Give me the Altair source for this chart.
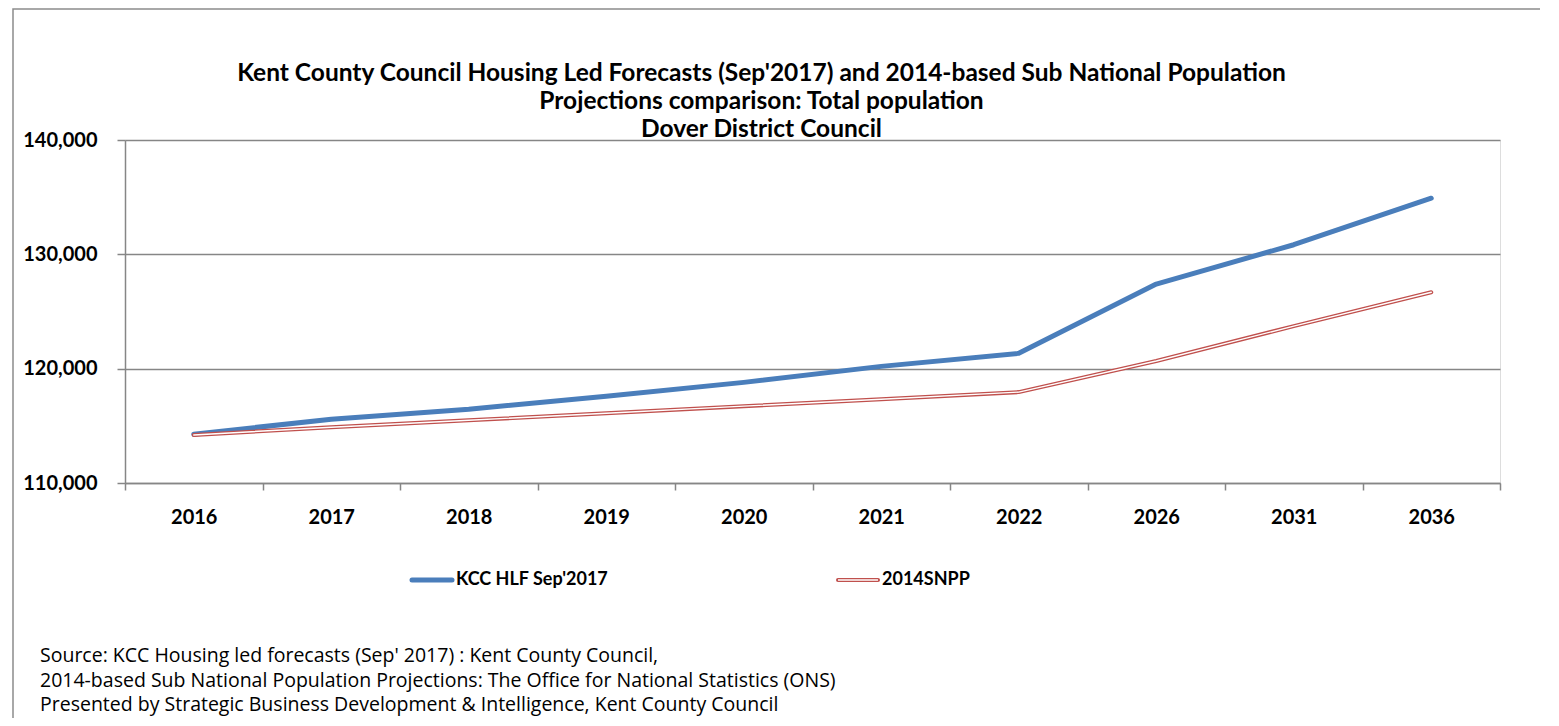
import altair as alt
import pandas as pd

years = ["2016", "2017", "2018", "2019", "2020", "2021", "2022", "2026", "2031", "2036"]
series_names = ["KCC HLF Sep'2017", "2014SNPP"]
kcc_hlf = [114270, 115580, 116450, 117590, 118800, 120200, 121340, 127400, 130840, 134910]
snpp_2014 = [114200, 114880, 115490, 116100, 116720, 117330, 117950, 120670, 123720, 126680]
y_ticks = [110000, 120000, 130000, 140000]
title_lines = [
    "Kent County Council Housing Led Forecasts (Sep'2017) and 2014-based Sub National Population",
    "Projections comparison: Total population",
    "Dover District Council",
]
source_lines = [
    "Source: KCC Housing led forecasts (Sep' 2017) : Kent County Council,",
    "2014-based Sub National Population Projections: The Office for National Statistics (ONS)",
    "Presented by Strategic Business Development & Intelligence, Kent County Council",
]

BLUE = "#4a7ebb"
RED = "#c0504d"
GREY = "#868686"
FONT = "Lato"

df = pd.DataFrame(
    {
        "year": years * 2,
        "series": [series_names[0]] * len(years) + [series_names[1]] * len(years),
        "value": kcc_hlf + snpp_2014,
    }
)

W, H = 1375, 343

x_enc = alt.X(
    "year:N",
    sort=years,
    scale=alt.Scale(paddingInner=0, paddingOuter=0),
    axis=alt.Axis(
        title=None,
        labelAngle=0,
        labelFont=FONT,
        labelFontSize=20,
        labelFontWeight="bold",
        labelColor="#000000",
        labelPadding=17,
        tickBand="extent",
        tickSize=7,
        tickColor=GREY,
        tickWidth=1.5,
        domainColor=GREY,
        domainWidth=1.5,
        grid=False,
    ),
)
y_enc = alt.Y(
    "value:Q",
    scale=alt.Scale(domain=[110000, 140000], nice=False, zero=False),
    axis=alt.Axis(
        title=None,
        values=y_ticks,
        format=",.0f",
        labelFont=FONT,
        labelFontSize=20,
        labelFontWeight="bold",
        labelColor="#000000",
        labelPadding=20,
        tickSize=8,
        tickColor=GREY,
        tickWidth=1.5,
        domainColor=GREY,
        domainWidth=1.5,
        grid=True,
        gridColor=GREY,
        gridWidth=1.5,
    ),
)
color_enc = alt.Color(
    "series:N",
    scale=alt.Scale(domain=series_names, range=[BLUE, RED]),
    legend=None,
)

base = alt.Chart(df).encode(x=x_enc, y=y_enc, color=color_enc)

kcc_line = base.transform_filter(alt.datum.series == series_names[0]).mark_line(
    strokeWidth=5, strokeCap="round", strokeJoin="round"
)
snpp_outer = base.transform_filter(alt.datum.series == series_names[1]).mark_line(
    strokeWidth=4, strokeCap="round", strokeJoin="round"
)
snpp_inner = (
    alt.Chart(df)
    .transform_filter(alt.datum.series == series_names[1])
    .mark_line(strokeWidth=1.4, color="#ffffff", strokeCap="round", strokeJoin="round")
    .encode(x=alt.X("year:N", sort=years), y="value:Q")
)

one = pd.DataFrame({"k": [0]})

# outer chart border
border = alt.Chart(one).mark_rect(fill=None, stroke="#8c8c8c", strokeWidth=1.5).encode(
    x=alt.value(-112), x2=alt.value(1600), y=alt.value(-131), y2=alt.value(800)
)

# manual legend
leg_blue = alt.Chart(one).mark_rule(color=BLUE, strokeWidth=5, strokeCap="round").encode(
    x=alt.value(287), x2=alt.value(327), y=alt.value(440)
)
leg_red_o = alt.Chart(one).mark_rule(color=RED, strokeWidth=4, strokeCap="round").encode(
    x=alt.value(713), x2=alt.value(753), y=alt.value(440)
)
leg_red_i = alt.Chart(one).mark_rule(color="#ffffff", strokeWidth=1.4).encode(
    x=alt.value(713), x2=alt.value(753), y=alt.value(440)
)


def label(text, x, y, size, weight, font=FONT, line_height=None):
    kw = {}
    if line_height is not None:
        kw["lineHeight"] = line_height
    return alt.Chart(one).mark_text(
        align="left", baseline="middle", font=font, fontSize=size, fontWeight=weight, color="#000000", **kw
    ).encode(x=alt.value(x), y=alt.value(y), text=alt.value(text))


leg_t1 = label(series_names[0], 331, 440, 18, "bold")
leg_t2 = label(series_names[1], 757, 440, 18, "bold")

src = label(source_lines, -85, 516, 19.5, "normal", "Open Sans", line_height=24.5)

chart = (
    alt.layer(border, kcc_line, snpp_outer, snpp_inner, leg_blue, leg_red_o, leg_red_i, leg_t1, leg_t2, src)
    .properties(
        width=W,
        height=H,
        title=alt.Title(
            text=title_lines,
            font=FONT,
            fontSize=24.5,
            fontWeight="bold",
            color="#000000",
            anchor="middle",
            frame="group",
            dx=-51,
            lineHeight=28,
            offset=-134,
        ),
        autosize=alt.AutoSizeParams(type="none"),
        padding={"left": 117, "top": 132, "right": 40, "bottom": 235},
    )
    .configure_view(stroke=None)
    .configure(background="#ffffff")
)

chart.save("out.html", embed_options={"renderer": "svg", "actions": False})
